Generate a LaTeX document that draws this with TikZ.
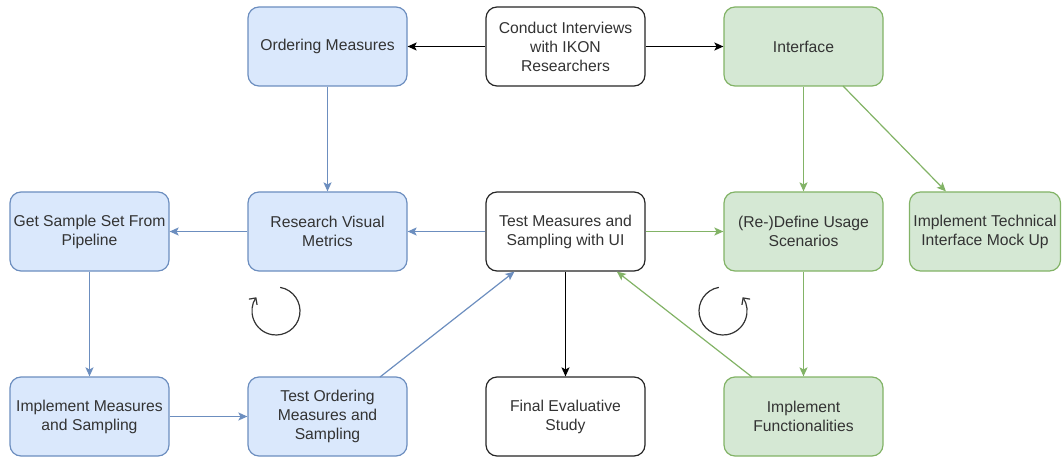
\documentclass[tikz,border=0pt]{standalone}
\usepackage{fontspec}
\setmainfont{Liberation Sans}
\usetikzlibrary{arrows.meta}
\definecolor{bluefill}{HTML}{DAE8FC}
\definecolor{bluedraw}{HTML}{6C8EBF}
\definecolor{greenfill}{HTML}{D5E8D4}
\definecolor{greendraw}{HTML}{82B366}
\definecolor{txt}{HTML}{333333}
\begin{document}
\begin{tikzpicture}[x=1pt,y=-1pt,
  box/.style={rounded corners=11pt, line width=1.2pt, minimum width=159pt, minimum height=79pt,
    align=center, inner sep=2pt, text=txt, font=\fontsize{15.7pt}{19pt}\selectfont},
  plainbox/.style={box, draw=black!85, fill=white},
  bluebox/.style={box, draw=bluedraw, fill=bluefill},
  greenbox/.style={box, draw=greendraw, fill=greenfill},
  conn/.style={line width=1.2pt, -{Stealth[length=9pt,width=8pt,inset=2pt]}},
  blk/.style={conn, draw=black},
  blu/.style={conn, draw=bluedraw},
  grn/.style={conn, draw=greendraw},
  loop/.style={line width=1.2pt, draw=black!80, -{Straight Barb[length=5pt,width=10pt]}}
]
\useasboundingbox (0,0) rectangle (1062,457);
\node[bluebox] (om) at (327.5,46.5) {Ordering Measures};
\node[plainbox] (ci) at (565.5,46.5) {Conduct Interviews\\with IKON\\Researchers};
\node[greenbox] (if) at (803.5,46.5) {Interface};
\node[bluebox] (gs) at (89.5,231.5) {Get Sample Set From\\Pipeline};
\node[bluebox] (rv) at (327.5,231.5) {Research Visual\\Metrics};
\node[plainbox] (tm) at (565.5,231.5) {Test Measures and\\Sampling with UI};
\node[greenbox] (du) at (803.5,231.5) {(Re-)Define Usage\\Scenarios};
\node[greenbox, minimum width=151pt] (it) at (985,231.5) {Implement Technical\\Interface Mock Up};
\node[bluebox] (im) at (89.5,416.5) {Implement Measures\\and Sampling};
\node[bluebox] (to) at (327.5,416.5) {Test Ordering\\Measures and\\Sampling};
\node[plainbox] (fe) at (565.5,416.5) {Final Evaluative\\Study};
\node[greenbox] (ifn) at (803.5,416.5) {Implement\\Functionalities};

\coordinate (a1) at (843,86);
\coordinate (b1) at (380,377);
\coordinate (g1) at (752,377);

\draw[blk] (ci) -- (om);
\draw[blk] (ci) -- (if);
\draw[blu] (om) -- (rv);
\draw[grn] (if) -- (du);
\draw[grn] (a1) -- (it);
\draw[blu] (tm) -- (rv);
\draw[blu] (rv) -- (gs);
\draw[grn] (tm) -- (du);
\draw[blu] (gs) -- (im);
\draw[blu] (im) -- (to);
\draw[blk] (tm) -- (fe);
\draw[grn] (du) -- (ifn);
\draw[blu] (b1) -- (tm);
\draw[grn] (g1) -- (tm);

\coordinate (c1) at (276,311);
\draw[loop] ([shift={(-80:24)}]c1) arc[start angle=-80, end angle=215, radius=24];
\coordinate (c2) at (723,311);
\draw[loop] ([shift={(260:24)}]c2) arc[start angle=260, end angle=-35, radius=24];
\end{tikzpicture}
\end{document}
